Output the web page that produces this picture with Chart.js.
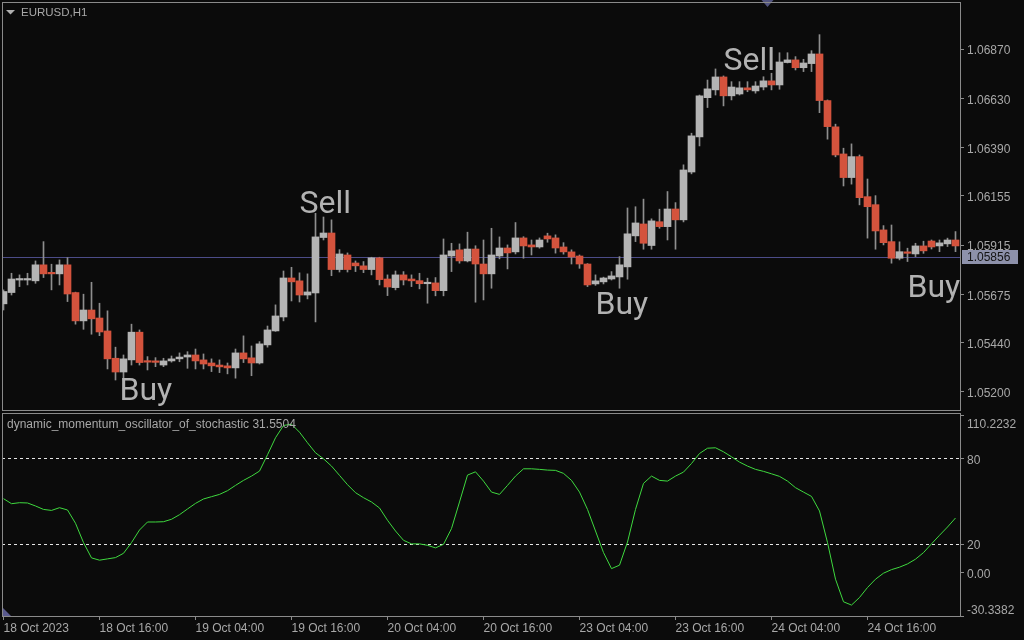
<!DOCTYPE html>
<html>
<head>
<meta charset="utf-8">
<script src="https://cdn.jsdelivr.net/npm/chart.js@4.4.0/dist/chart.umd.min.js"></script>
<style>
  body { margin: 0; background: #0b0b0b; width: 1024px; height: 640px; overflow: hidden; position: relative; }
  canvas { position: absolute; left: 0; }
  #price { top: 0; }
  #osc { top: 411px; }
</style>
</head>
<body>
<canvas id="price" width="1024" height="411"></canvas>
<canvas id="osc" width="1024" height="229"></canvas>
<script>
// EURUSD H1, 120 bars, 18 Oct 2023 .. 24 Oct 2023
const tickLabels = ['18 Oct 2023', '18 Oct 16:00', '19 Oct 04:00', '19 Oct 16:00', '20 Oct 04:00',
    '20 Oct 16:00', '23 Oct 04:00', '23 Oct 16:00', '24 Oct 04:00', '24 Oct 16:00'];

const opens = [
    1.05629, 1.05684, 1.05745, 1.05745, 1.05741, 1.05819, 1.05781, 1.05775, 1.05819, 1.05684,
    1.05546, 1.05599, 1.05560, 1.05497, 1.05364, 1.05297, 1.05356, 1.05491, 1.05348, 1.05347,
    1.05331, 1.05351, 1.05361, 1.05370, 1.05380, 1.05356, 1.05341, 1.05331, 1.05327, 1.05317,
    1.05390, 1.05366, 1.05341, 1.05429, 1.05497, 1.05565, 1.05755, 1.05741, 1.05672, 1.05682,
    1.05952, 1.05974, 1.05796, 1.05867, 1.05828, 1.05814, 1.05796, 1.05853, 1.05750, 1.05708,
    1.05770, 1.05750, 1.05742, 1.05727, 1.05731, 1.05693, 1.05862, 1.05892, 1.05838, 1.05896,
    1.05823, 1.05775, 1.05862, 1.05901, 1.05882, 1.05950, 1.05916, 1.05906, 1.05960, 1.05950,
    1.05906, 1.05882, 1.05862, 1.05823, 1.05726, 1.05736, 1.05750, 1.05760, 1.05809, 1.05960,
    1.06018, 1.05913, 1.06029, 1.06005, 1.06091, 1.06038, 1.06271, 1.06442, 1.06633, 1.06671,
    1.06734, 1.06642, 1.06651, 1.06681, 1.06666, 1.06685, 1.06715, 1.06695, 1.06804, 1.06817,
    1.06779, 1.06799, 1.06846, 1.06619, 1.06491, 1.06359, 1.06244, 1.06346, 1.06151, 1.06112,
    1.05989, 1.05932, 1.05851, 1.05878, 1.05872, 1.05911, 1.05935, 1.05911, 1.05921, 1.05940
];
const highs = [
    1.05697, 1.05778, 1.05770, 1.05778, 1.05838, 1.05932, 1.05822, 1.05843, 1.05854, 1.05686,
    1.05676, 1.05734, 1.05632, 1.05595, 1.05418, 1.05380, 1.05530, 1.05502, 1.05372, 1.05367,
    1.05364, 1.05375, 1.05390, 1.05396, 1.05409, 1.05385, 1.05361, 1.05356, 1.05341, 1.05409,
    1.05473, 1.05424, 1.05445, 1.05521, 1.05624, 1.05789, 1.05807, 1.05780, 1.05775, 1.06070,
    1.06052, 1.06038, 1.05893, 1.05877, 1.05838, 1.05835, 1.05856, 1.05856, 1.05770, 1.05789,
    1.05786, 1.05770, 1.05778, 1.05754, 1.05757, 1.05945, 1.05924, 1.05921, 1.05978, 1.05912,
    1.05940, 1.05997, 1.05955, 1.05916, 1.06025, 1.05956, 1.05940, 1.05950, 1.05973, 1.05965,
    1.05927, 1.05892, 1.05867, 1.05825, 1.05770, 1.05759, 1.05786, 1.05859, 1.06096, 1.06102,
    1.06139, 1.06043, 1.06090, 1.06176, 1.06122, 1.06306, 1.06460, 1.06646, 1.06719, 1.06773,
    1.06739, 1.06711, 1.06711, 1.06711, 1.06711, 1.06735, 1.06752, 1.06852, 1.06852, 1.06833,
    1.06820, 1.06862, 1.06940, 1.06622, 1.06504, 1.06387, 1.06408, 1.06354, 1.06237, 1.06156,
    1.06010, 1.06013, 1.05931, 1.05900, 1.05924, 1.05934, 1.05940, 1.05940, 1.05949, 1.05981
];
const lows = [
    1.05599, 1.05672, 1.05713, 1.05721, 1.05729, 1.05757, 1.05697, 1.05721, 1.05640, 1.05530,
    1.05505, 1.05481, 1.05474, 1.05312, 1.05258, 1.05258, 1.05331, 1.05331, 1.05307, 1.05323,
    1.05323, 1.05345, 1.05347, 1.05315, 1.05312, 1.05312, 1.05299, 1.05294, 1.05288, 1.05267,
    1.05343, 1.05279, 1.05336, 1.05418, 1.05495, 1.05546, 1.05643, 1.05638, 1.05653, 1.05541,
    1.05940, 1.05766, 1.05784, 1.05784, 1.05786, 1.05781, 1.05770, 1.05721, 1.05669, 1.05697,
    1.05721, 1.05713, 1.05702, 1.05632, 1.05668, 1.05668, 1.05786, 1.05827, 1.05833, 1.05637,
    1.05648, 1.05705, 1.05848, 1.05799, 1.05872, 1.05851, 1.05867, 1.05900, 1.05929, 1.05876,
    1.05871, 1.05823, 1.05802, 1.05713, 1.05719, 1.05726, 1.05745, 1.05705, 1.05749, 1.05932,
    1.05895, 1.05895, 1.05997, 1.05940, 1.05895, 1.06028, 1.06262, 1.06398, 1.06585, 1.06646,
    1.06593, 1.06622, 1.06646, 1.06662, 1.06655, 1.06671, 1.06671, 1.06674, 1.06802, 1.06768,
    1.06760, 1.06760, 1.06560, 1.06431, 1.06345, 1.06203, 1.06212, 1.06111, 1.05949, 1.05895,
    1.05916, 1.05827, 1.05843, 1.05835, 1.05859, 1.05875, 1.05896, 1.05883, 1.05908, 1.05883
];
const closes = [
    1.05689, 1.05750, 1.05746, 1.05746, 1.05819, 1.05775, 1.05775, 1.05819, 1.05677, 1.05546,
    1.05599, 1.05556, 1.05492, 1.05361, 1.05297, 1.05361, 1.05491, 1.05343, 1.05345, 1.05344,
    1.05351, 1.05361, 1.05370, 1.05380, 1.05351, 1.05336, 1.05327, 1.05322, 1.05317, 1.05390,
    1.05361, 1.05341, 1.05434, 1.05502, 1.05570, 1.05755, 1.05736, 1.05672, 1.05687, 1.05955,
    1.05974, 1.05796, 1.05872, 1.05796, 1.05814, 1.05796, 1.05853, 1.05747, 1.05711, 1.05770,
    1.05745, 1.05741, 1.05727, 1.05729, 1.05693, 1.05867, 1.05887, 1.05838, 1.05896, 1.05823,
    1.05775, 1.05867, 1.05901, 1.05877, 1.05950, 1.05911, 1.05906, 1.05940, 1.05945, 1.05901,
    1.05882, 1.05857, 1.05823, 1.05721, 1.05741, 1.05755, 1.05765, 1.05819, 1.05970, 1.06023,
    1.05924, 1.06033, 1.06005, 1.06091, 1.06038, 1.06281, 1.06447, 1.06642, 1.06676, 1.06734,
    1.06642, 1.06685, 1.06681, 1.06671, 1.06690, 1.06715, 1.06695, 1.06807, 1.06817, 1.06779,
    1.06802, 1.06846, 1.06619, 1.06492, 1.06354, 1.06244, 1.06346, 1.06146, 1.06102, 1.05984,
    1.05927, 1.05851, 1.05883, 1.05875, 1.05911, 1.05887, 1.05906, 1.05926, 1.05940, 1.05911
];

// dynamic momentum oscillator of stochastic, one value per bar
const oscValues = [
    51.7, 48.2, 48.9, 48.7, 46.6, 44.2, 43.5, 45.4, 43.8, 34.5,
    21.0, 10.3, 8.7, 9.6, 10.5, 13.5, 21.0, 29.8, 35.4, 35.4,
    35.6, 37.3, 40.5, 44.5, 48.4, 51.5, 53.1, 54.7, 57.3, 61.0,
    64.5, 67.5, 71.0, 82.4, 94.3, 102.9, 103.8, 98.2, 90.8, 83.8,
    79.6, 74.5, 68.0, 61.5, 55.9, 52.4, 49.4, 45.2, 36.6, 29.1,
    22.6, 20.1, 20.1, 19.1, 17.3, 19.8, 30.8, 49.4, 68.2, 70.5,
    64.0, 56.3, 54.7, 61.0, 67.5, 72.6, 72.6, 72.2, 71.7, 71.5,
    69.4, 64.5, 56.3, 44.2, 29.1, 14.0, 2.8, 5.2, 21.4, 44.2,
    62.4, 67.5, 64.5, 64.0, 67.5, 70.3, 76.3, 83.3, 87.0, 87.3,
    84.5, 81.0, 77.3, 74.5, 72.2, 70.8, 69.1, 67.3, 64.0, 59.4,
    56.3, 53.3, 43.1, 21.0, -4.6, -20.4, -22.7, -17.4, -10.4, -4.6,
    -0.4, 2.1, 3.8, 6.1, 9.4, 14.0, 20.1, 26.1, 31.9, 38.2
];

const priceTicks = [1.05200, 1.05440, 1.05675, 1.05915, 1.06155, 1.06390, 1.06630, 1.06870];
const oscTicks = [110.2232, 80, 20, 0, -30.3382];
const oscTickLabels = ['110.2232', '80', '20', '0.00', '-30.3382'];
const oscLevels = [80, 20];
const currentPrice = 1.05856;

// Buy / Sell text objects: bar index and price of the text baseline
const signalText = ['Buy', 'Sell', 'Buy', 'Sell', 'Buy'];
const signalBar = [14.5, 37, 74, 90, 113];
const signalPrice = [1.05161, 1.06072, 1.05580, 1.06768, 1.05664];

const bullColor = '#b4b4b4';
const bearColor = '#d4533d';
const wickColor = '#8e8e8e';
const frameColor = '#8a8a8a';
const textColor = '#a8a8a8';
const axisFont = { family: 'Liberation Sans', size: 12 };

const xMin = -0.1875, xMax = 119.5625;

// chart.js pads the area for half a tick label at each end; MT4 does not
const noPad = s => { s.paddingTop = 0; s.paddingBottom = 0; s.paddingLeft = 0; s.paddingRight = 0; };

const framePlugin = {
    id: 'frame',
    afterDraw(chart, args, opts) {
        const { ctx, chartArea: a } = chart;
        const top = opts.top !== undefined ? opts.top : a.top;
        ctx.save();
        ctx.strokeStyle = frameColor;
        ctx.lineWidth = 1;
        ctx.strokeRect(a.left + 0.5, top + 0.5, a.right - a.left, a.bottom - top);
        ctx.restore();
    }
};

const pricePlugin = {
    id: 'priceDeco',
    beforeDatasetsDraw(chart) {
        const { ctx, chartArea: a, scales } = chart;
        const y = Math.round(scales.y.getPixelForValue(currentPrice)) + 0.5;
        ctx.save();
        ctx.strokeStyle = '#4c4c88';
        ctx.lineWidth = 1;
        ctx.beginPath();
        ctx.moveTo(a.left, y);
        ctx.lineTo(a.right, y);
        ctx.stroke();
        ctx.restore();
    },
    afterDatasetsDraw(chart) {
        const { ctx, chartArea: a, scales } = chart;
        ctx.save();
        ctx.beginPath();
        ctx.rect(a.left, a.top, a.right - a.left, a.bottom - a.top);
        ctx.clip();
        ctx.font = '32px Roboto';
        ctx.fillStyle = '#b2b2b2';
        ctx.textAlign = 'left';
        ctx.textBaseline = 'alphabetic';
        signalText.forEach((t, i) => {
            ctx.fillText(t, scales.x.getPixelForValue(signalBar[i]), scales.y.getPixelForValue(signalPrice[i]));
        });
        ctx.restore();
    },
    afterDraw(chart) {
        const { ctx, scales } = chart;
        const y = Math.round(scales.y.getPixelForValue(currentPrice));
        ctx.save();
        ctx.fillStyle = '#8d91aa';
        ctx.fillRect(962, y - 7, 56, 14);
        ctx.fillStyle = '#141414';
        ctx.font = '12px "Liberation Sans"';
        ctx.textBaseline = 'middle';
        ctx.fillText(currentPrice.toFixed(5), 967, y + 1);

        ctx.fillStyle = '#b0b0b0';
        ctx.beginPath();
        ctx.moveTo(6, 10); ctx.lineTo(15, 10); ctx.lineTo(10.5, 14.5);
        ctx.closePath(); ctx.fill();
        ctx.fillStyle = textColor;
        ctx.font = '11.5px "Liberation Sans"';
        ctx.fillText('EURUSD,H1', 21, 13);

        ctx.fillStyle = '#52547e';
        ctx.beginPath();
        ctx.moveTo(761.5, 0); ctx.lineTo(773.5, 0); ctx.lineTo(767.5, 7);
        ctx.closePath(); ctx.fill();
        ctx.restore();
    }
};

const oscPlugin = {
    id: 'oscDeco',
    beforeDatasetsDraw(chart) {
        const { ctx, chartArea: a, scales } = chart;
        ctx.save();
        ctx.strokeStyle = '#e6e6e6';
        ctx.lineWidth = 1;
        ctx.setLineDash([3, 3]);
        oscLevels.forEach(v => {
            const y = Math.round(scales.y.getPixelForValue(v)) + 0.5;
            ctx.beginPath();
            ctx.moveTo(a.left, y);
            ctx.lineTo(a.right, y);
            ctx.stroke();
        });
        ctx.restore();
    },
    afterDraw(chart) {
        const { ctx } = chart;
        ctx.save();
        ctx.fillStyle = textColor;
        ctx.font = '12px "Liberation Sans"';
        ctx.textBaseline = 'middle';
        ctx.fillText('dynamic_momentum_oscillator_of_stochastic 31.5504', 7, 14);
        ctx.fillStyle = '#5a5a8e';
        ctx.beginPath();
        ctx.moveTo(3, 197); ctx.lineTo(3, 205); ctx.lineTo(11, 205);
        ctx.closePath(); ctx.fill();
        ctx.restore();
    }
};

// Price panel: candles as floating bars (wick + body)
new Chart(document.getElementById('price'), {
    type: 'bar',
    data: {
        datasets: [
            {
                data: opens.map((o, i) => ({ x: i, y: [lows[i], highs[i]] })),
                backgroundColor: wickColor,
                barThickness: 1,
                order: 2
            },
            {
                data: opens.map((o, i) => ({ x: i, y: [o, closes[i]] })),
                backgroundColor: opens.map((o, i) => closes[i] >= o ? bullColor : bearColor),
                barThickness: 7,
                minBarLength: 1.5,
                order: 1
            }
        ]
    },
    options: {
        responsive: false,
        animation: false,
        events: [],
        grouped: false,
        layout: { padding: { left: 2, top: 2, right: 0, bottom: 1 } },
        plugins: { legend: { display: false }, tooltip: { enabled: false }, frame: {} },
        scales: {
            x: { type: 'linear', min: xMin, max: xMax, offset: false, display: false },
            y: {
                position: 'right',
                min: 1.05112,
                max: 1.07099,
                afterFit: s => { s.width = 64; noPad(s); },
                afterBuildTicks: s => { s.ticks = priceTicks.map(v => ({ value: v })); },
                grid: { drawOnChartArea: false, drawTicks: true, tickLength: 4, color: frameColor },
                border: { display: false },
                ticks: { color: textColor, font: axisFont, padding: 3, labelOffset: 2, callback: v => v.toFixed(5) }
            }
        }
    },
    plugins: [pricePlugin, framePlugin]
});

// Oscillator panel
new Chart(document.getElementById('osc'), {
    type: 'line',
    data: {
        datasets: [{
            data: oscValues.map((v, i) => ({ x: i, y: v })),
            borderColor: '#3fd93f',
            borderWidth: 1,
            pointRadius: 0,
            tension: 0
        }]
    },
    options: {
        responsive: false,
        animation: false,
        events: [],
        layout: { padding: { left: 2, top: 4, right: 0, bottom: 0 } },
        plugins: { legend: { display: false }, tooltip: { enabled: false }, frame: { top: 2 } },
        scales: {
            x: {
                type: 'linear',
                min: xMin,
                max: xMax,
                offset: false,
                afterFit: s => { s.height = 24; noPad(s); },
                afterBuildTicks: s => { s.ticks = tickLabels.map((t, i) => ({ value: i * 12 })); },
                grid: { drawOnChartArea: false, drawTicks: true, tickLength: 4, color: frameColor },
                border: { display: false },
                ticks: {
                    color: textColor, font: axisFont, padding: 1, align: 'start',
                    autoSkip: false, maxRotation: 0,
                    callback: (v, i) => tickLabels[i]
                }
            },
            y: {
                position: 'right',
                min: -30.3382,
                max: 110.2232,
                afterFit: s => { s.width = 64; noPad(s); },
                afterBuildTicks: s => { s.ticks = oscTicks.map(v => ({ value: v })); },
                grid: { drawOnChartArea: false, drawTicks: true, tickLength: 4, color: frameColor },
                border: { display: false },
                ticks: {
                    color: textColor, font: axisFont, padding: 3, labelOffset: 2,
                    callback: (v, i) => i === 0 ? ['', oscTickLabels[i]]
                        : i === oscTicks.length - 1 ? [oscTickLabels[i], ''] : oscTickLabels[i]
                }
            }
        }
    },
    plugins: [oscPlugin, framePlugin]
});
</script>
</body>
</html>
